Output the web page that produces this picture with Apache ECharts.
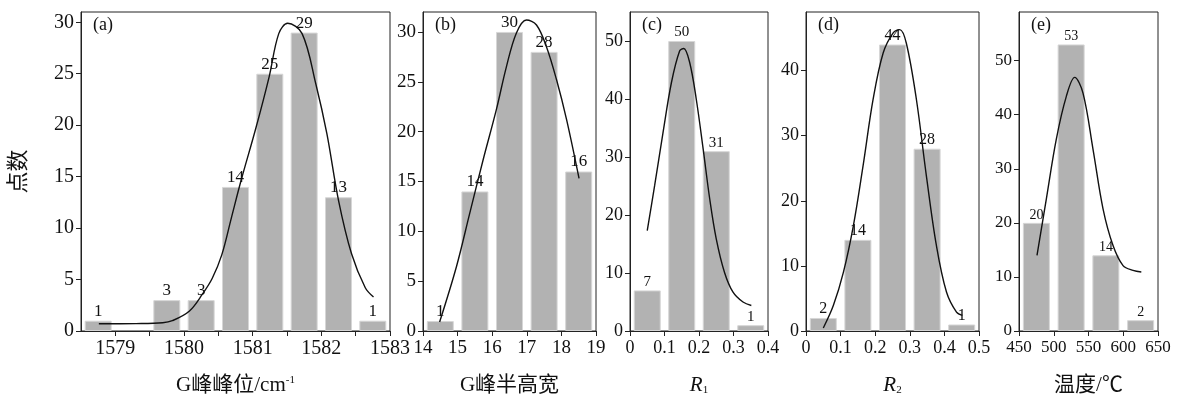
<!DOCTYPE html>
<html>
<head>
<meta charset="utf-8">
<script src="https://cdn.jsdelivr.net/npm/echarts@6.0.0/dist/echarts.min.js"></script>
<style>
  html, body { margin: 0; padding: 0; background: #fff; }
  #chart { width: 1180px; height: 397px; }
</style>
</head>
<body>
<div id="chart"></div>
<script>
// (a) G峰峰位
const aBins = [1578.75, 1579.75, 1580.25, 1580.75, 1581.25, 1581.75, 1582.25, 1582.75];
const aCounts = [1, 3, 3, 14, 25, 29, 13, 1];
const aFitX = [1578.76, 1579.3, 1579.69, 1579.83, 1580.08, 1580.27, 1580.41, 1580.55, 1580.69, 1580.83, 1581.05, 1581.24, 1581.38, 1581.51, 1581.72, 1581.92, 1582.08, 1582.25, 1582.44, 1582.64, 1582.76];
const aFitY = [0.7, 0.72, 0.8, 1.0, 1.95, 3.6, 5.1, 7.4, 11, 14.6, 19.8, 24.7, 28.9, 29.9, 28.9, 24, 19.2, 12.7, 7.5, 4.2, 3.3];
const aXTicks = [1579, 1580, 1581, 1582, 1583];
const aXMinor = [1579, 1579.5, 1580, 1580.5, 1581, 1581.5, 1582, 1582.5, 1583];
const aYTicks = [0, 5, 10, 15, 20, 25, 30];

// (b) G峰半高宽
const bBins = [14.5, 15.5, 16.5, 17.5, 18.5];
const bCounts = [1, 14, 30, 28, 16];
const bFitX = [14.48, 14.97, 15.35, 15.74, 16.12, 16.41, 16.7, 16.99, 17.28, 17.57, 17.86, 18.15, 18.51];
const bFitY = [0.9, 6.5, 11.8, 17.2, 22.2, 26.5, 29.9, 31.2, 30.7, 28.5, 25.2, 21.2, 15.3];
const bXTicks = [14, 15, 16, 17, 18, 19];
const bYTicks = [0, 5, 10, 15, 20, 25, 30];

// (c) R1
const cBins = [0.05, 0.15, 0.25, 0.35];
const cCounts = [7, 50, 31, 1];
const cFitX = [0.05, 0.0715, 0.0957, 0.12, 0.144, 0.1556, 0.173, 0.192, 0.212, 0.231, 0.25, 0.274, 0.2986, 0.3275, 0.3517];
const cFitY = [17.3, 25.1, 34.2, 42.8, 48.3, 48.7, 46.3, 40, 31.4, 22.8, 15.9, 10.1, 6.7, 5, 4.4];
const cXTicks = [0, 0.1, 0.2, 0.3, 0.4];
const cYTicks = [0, 10, 20, 30, 40, 50];

// (d) R2
const dBins = [0.05, 0.15, 0.25, 0.35, 0.45];
const dCounts = [2, 14, 44, 28, 1];
const dFitX = [0.05, 0.079, 0.108, 0.137, 0.165, 0.194, 0.223, 0.252, 0.271, 0.29, 0.319, 0.348, 0.377, 0.406, 0.435, 0.452];
const dFitY = [0.46, 3.9, 9, 16.2, 25.4, 35.6, 42.7, 45.8, 46.3, 44.2, 35.6, 23.8, 13.1, 6, 2.9, 2.4];
const dXTicks = [0, 0.1, 0.2, 0.3, 0.4, 0.5];
const dYTicks = [0, 10, 20, 30, 40];

// (e) 温度
const eBins = [475, 525, 575, 625];
const eCounts = [20, 53, 14, 2];
const eFitX = [475.9, 489.3, 503.7, 518.1, 530.1, 542.1, 556.5, 570.9, 585.3, 599.7, 614.1, 626];
const eFitY = [14, 24.4, 35.5, 43.4, 46.9, 44, 33.6, 22.6, 15.8, 12.1, 11.2, 10.9];
const eXTicks = [450, 500, 550, 600, 650];
const eYTicks = [0, 10, 20, 30, 40, 50];

const serif = '"Liberation Serif", "Times New Roman", "Noto Sans CJK SC", serif';
const barColor = '#b2b2b2';

const panels = [
  { tag: '(a)', bins: aBins, counts: aCounts, fx: aFitX, fy: aFitY, xMin: 1578.5, xMax: 1583, xTicks: aXTicks, xMinor: aXMinor, yMax: 31, yTicks: aYTicks,
    grid: { left: 81, top: 12, width: 309, height: 319 }, font: 20, labelFont: 17,
    name: '{t|G峰峰位/cm}{sup|-1}' },
  { tag: '(b)', bins: bBins, counts: bCounts, fx: bFitX, fy: bFitY, xMin: 14, xMax: 19, xTicks: bXTicks, yMax: 32, yTicks: bYTicks,
    grid: { left: 423, top: 12, width: 173, height: 319 }, font: 19, labelFont: 17,
    name: '{t|G峰半高宽}' },
  { tag: '(c)', bins: cBins, counts: cCounts, fx: cFitX, fy: cFitY, xMin: 0, xMax: 0.4, xTicks: cXTicks, yMax: 55, yTicks: cYTicks,
    grid: { left: 630, top: 12, width: 138, height: 319 }, font: 18, labelFont: 15,
    name: '{i|R}{sub|1}' },
  { tag: '(d)', bins: dBins, counts: dCounts, fx: dFitX, fy: dFitY, xMin: 0, xMax: 0.5, xTicks: dXTicks, yMax: 49, yTicks: dYTicks,
    grid: { left: 806, top: 12, width: 173, height: 319 }, font: 18, labelFont: 16,
    name: '{i|R}{sub|2}' },
  { tag: '(e)', bins: eBins, counts: eCounts, fx: eFitX, fy: eFitY, xMin: 450, xMax: 650, xTicks: eXTicks, yMax: 59, yTicks: eYTicks,
    grid: { left: 1019, top: 12, width: 139, height: 319 }, font: 17, labelFont: 14,
    name: '{t|温度/℃}' },
];

const nameRich = {
  t: { fontFamily: serif, fontSize: 21, color: '#111' },
  sup: { fontFamily: serif, fontSize: 11, color: '#111', verticalAlign: 'top', padding: [0, 0, 10, 0] },
  i: { fontFamily: serif, fontSize: 21, fontStyle: 'italic', color: '#111' },
  sub: { fontFamily: serif, fontSize: 11, color: '#111', padding: [10, 0, 0, 0] },
};

const option = {
  animation: false,
  backgroundColor: '#fff',
  title: panels.map((p) => ({
    text: p.tag,
    left: p.grid.left + 7,
    top: p.grid.top - 1,
    textStyle: { fontFamily: serif, fontSize: 18, fontWeight: 'normal', color: '#111' },
  })),
  grid: panels.map((p) => ({
    ...p.grid,
    show: true,
    containLabel: false,
    outerBoundsMode: 'none',
    borderColor: '#222',
    borderWidth: 1,
    backgroundColor: 'transparent',
  })),
  xAxis: panels.map((p, i) => ({
    type: 'value',
    gridIndex: i,
    min: p.xMin,
    max: p.xMax,
    name: p.name,
    nameLocation: 'middle',
    nameGap: 44,
    nameTextStyle: { rich: nameRich },
    axisLine: { show: true, onZero: false, lineStyle: { color: '#222', width: 1 } },
    axisTick: { show: true, inside: false, length: 5, lineStyle: { color: '#222' }, customValues: p.xMinor || p.xTicks },
    axisLabel: {
      customValues: p.xTicks,
      formatter: (v) => String(Math.round(v * 1000) / 1000),
      fontFamily: serif,
      fontSize: p.font,
      color: '#111',
      margin: 8,
    },
    splitLine: { show: false },
  })),
  yAxis: panels.map((p, i) => ({
    type: 'value',
    gridIndex: i,
    min: 0,
    max: p.yMax,
    name: i === 0 ? '点数' : '',
    nameLocation: 'middle',
    nameRotate: 90,
    nameGap: 51,
    nameTextStyle: { fontFamily: serif, fontSize: 22, color: '#111' },
    axisLine: { show: true, lineStyle: { color: '#222', width: 1 } },
    axisTick: { show: true, inside: false, length: 5, lineStyle: { color: '#222' }, customValues: p.yTicks },
    axisLabel: { customValues: p.yTicks, fontFamily: serif, fontSize: p.font, color: '#111', margin: 7 },
    splitLine: { show: false },
  })),
  series: panels.flatMap((p, i) => [
    {
      type: 'bar',
      xAxisIndex: i,
      yAxisIndex: i,
      barWidth: 27,
      data: p.bins.map((x, k) => [x, p.counts[k]]),
      itemStyle: { color: barColor, borderColor: '#d6d6d6', borderWidth: 1 },
      label: {
        show: true,
        position: 'top',
        distance: 1,
        fontFamily: serif,
        fontSize: p.labelFont,
        color: '#111',
        formatter: (v) => v.value[1],
      },
      z: 2,
    },
    {
      type: 'line',
      xAxisIndex: i,
      yAxisIndex: i,
      smooth: 0.35,
      symbol: 'none',
      data: p.fx.map((x, k) => [x, p.fy[k]]),
      lineStyle: { color: '#111', width: 1.4 },
      z: 3,
    },
  ]),
};

const chart = echarts.init(document.getElementById('chart'), null, { renderer: 'canvas' });
chart.setOption(option);
</script>
</body>
</html>
